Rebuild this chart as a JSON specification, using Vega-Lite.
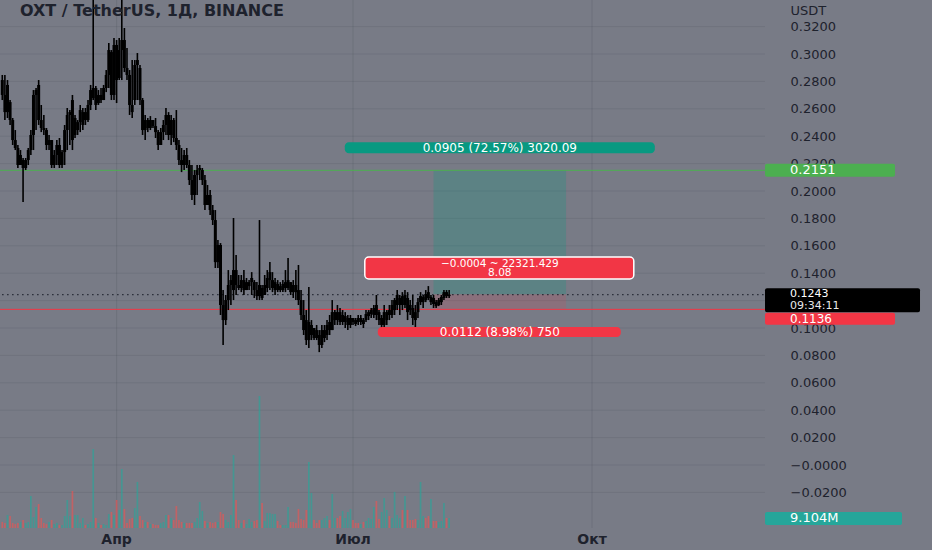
{
"$schema":"https://vega.github.io/schema/vega-lite/v6.json",
"width":932,"height":550,"padding":0,"autosize":"none",
"background":"#787b86",
"config":{"view":{"stroke":null}},
"title":{"text":"OXT / TetherUS, 1Д, BINANCE","anchor":"start","frame":"group","orient":"top","offset":-33,"dx":20,"baseline":"middle","font":"DejaVu Sans","fontSize":16,"fontWeight":"bold","color":"#1e222d"},
"resolve":{"scale":{"y":"independent"}},
"datasets":{
"months":[{"m":"2022-04-01","t":"Апр"},{"m":"2022-07-01","t":"Июл"},{"m":"2022-10-01","t":"Окт"}],
"ticks":[{"p":-0.02},{"p":0},{"p":0.02},{"p":0.04},{"p":0.06},{"p":0.08},{"p":0.1},{"p":0.12},{"p":0.14},{"p":0.16},{"p":0.18},{"p":0.2},{"p":0.22},{"p":0.24},{"p":0.26},{"p":0.28},{"p":0.3},{"p":0.32}],
"candles":[
{"d":"2022-02-16","o":0.2810,"h":0.2847,"l":0.2664,"c":0.2701,"v":5.5},
{"d":"2022-02-17","o":0.2701,"h":0.2847,"l":0.2518,"c":0.2576,"v":4.6},
{"d":"2022-02-18","o":0.2576,"h":0.2810,"l":0.2533,"c":0.2774,"v":11.8},
{"d":"2022-02-19","o":0.2649,"h":0.2664,"l":0.2482,"c":0.2518,"v":10.9},
{"d":"2022-02-20","o":0.2518,"h":0.2533,"l":0.2336,"c":0.2372,"v":4.6},
{"d":"2022-02-21","o":0.2372,"h":0.2445,"l":0.2299,"c":0.2314,"v":3.6},
{"d":"2022-02-22","o":0.2314,"h":0.2336,"l":0.2168,"c":0.2190,"v":4.6},
{"d":"2022-02-23","o":0.2190,"h":0.2299,"l":0.2190,"c":0.2263,"v":5.5},
{"d":"2022-02-24","o":0.2226,"h":0.2241,"l":0.1919,"c":0.2168,"v":7.3},
{"d":"2022-02-25","o":0.2168,"h":0.2241,"l":0.2153,"c":0.2226,"v":4.6},
{"d":"2022-02-26","o":0.2226,"h":0.2314,"l":0.2190,"c":0.2299,"v":5.5},
{"d":"2022-02-27","o":0.2299,"h":0.2445,"l":0.2263,"c":0.2409,"v":29.1},
{"d":"2022-02-28","o":0.2409,"h":0.2737,"l":0.2299,"c":0.2701,"v":10.0},
{"d":"2022-03-01","o":0.2701,"h":0.2752,"l":0.2445,"c":0.2737,"v":19.1},
{"d":"2022-03-02","o":0.2774,"h":0.2810,"l":0.2482,"c":0.2518,"v":21.8},
{"d":"2022-03-03","o":0.2518,"h":0.2628,"l":0.2430,"c":0.2460,"v":9.1},
{"d":"2022-03-04","o":0.2460,"h":0.2555,"l":0.2409,"c":0.2445,"v":4.6},
{"d":"2022-03-05","o":0.2445,"h":0.2460,"l":0.2299,"c":0.2336,"v":3.6},
{"d":"2022-03-06","o":0.2336,"h":0.2409,"l":0.2299,"c":0.2372,"v":5.5},
{"d":"2022-03-07","o":0.2372,"h":0.2372,"l":0.2168,"c":0.2190,"v":7.3},
{"d":"2022-03-08","o":0.2190,"h":0.2299,"l":0.2168,"c":0.2263,"v":3.6},
{"d":"2022-03-09","o":0.2263,"h":0.2372,"l":0.2190,"c":0.2336,"v":4.6},
{"d":"2022-03-10","o":0.2336,"h":0.2387,"l":0.2168,"c":0.2190,"v":2.7},
{"d":"2022-03-11","o":0.2190,"h":0.2299,"l":0.2168,"c":0.2284,"v":2.7},
{"d":"2022-03-12","o":0.2284,"h":0.2482,"l":0.2190,"c":0.2445,"v":10.9},
{"d":"2022-03-13","o":0.2445,"h":0.2606,"l":0.2299,"c":0.2555,"v":25.5},
{"d":"2022-03-14","o":0.2555,"h":0.2591,"l":0.2336,"c":0.2576,"v":10.9},
{"d":"2022-03-15","o":0.2664,"h":0.2701,"l":0.2299,"c":0.2372,"v":33.7},
{"d":"2022-03-16","o":0.2409,"h":0.2555,"l":0.2387,"c":0.2533,"v":11.8},
{"d":"2022-03-17","o":0.2445,"h":0.2518,"l":0.2409,"c":0.2503,"v":11.8},
{"d":"2022-03-18","o":0.2503,"h":0.2628,"l":0.2430,"c":0.2591,"v":4.6},
{"d":"2022-03-19","o":0.2482,"h":0.2606,"l":0.2445,"c":0.2576,"v":9.1},
{"d":"2022-03-20","o":0.2576,"h":0.2606,"l":0.2482,"c":0.2518,"v":2.7},
{"d":"2022-03-21","o":0.2518,"h":0.2664,"l":0.2503,"c":0.2628,"v":3.6},
{"d":"2022-03-22","o":0.2628,"h":0.2774,"l":0.2591,"c":0.2737,"v":5.5},
{"d":"2022-03-23","o":0.2679,"h":0.3416,"l":0.2664,"c":0.2752,"v":71.9},
{"d":"2022-03-24","o":0.2752,"h":0.2766,"l":0.2591,"c":0.2628,"v":9.1},
{"d":"2022-03-25","o":0.2642,"h":0.2737,"l":0.2628,"c":0.2701,"v":4.6},
{"d":"2022-03-26","o":0.2701,"h":0.2752,"l":0.2642,"c":0.2664,"v":2.7},
{"d":"2022-03-27","o":0.2664,"h":0.2774,"l":0.2664,"c":0.2752,"v":3.6},
{"d":"2022-03-28","o":0.2752,"h":0.2883,"l":0.2722,"c":0.2847,"v":2.7},
{"d":"2022-03-29","o":0.2847,"h":0.3080,"l":0.2752,"c":0.3029,"v":12.7},
{"d":"2022-03-30","o":0.3014,"h":0.3029,"l":0.2664,"c":0.2701,"v":14.6},
{"d":"2022-03-31","o":0.2701,"h":0.3117,"l":0.2664,"c":0.3066,"v":11.8},
{"d":"2022-04-01","o":0.3066,"h":0.3102,"l":0.2642,"c":0.2810,"v":25.5},
{"d":"2022-04-02","o":0.2825,"h":0.3117,"l":0.2810,"c":0.3029,"v":16.4},
{"d":"2022-04-03","o":0.3029,"h":0.3431,"l":0.2810,"c":0.3102,"v":53.7},
{"d":"2022-04-04","o":0.3102,"h":0.3190,"l":0.2868,"c":0.2898,"v":17.3},
{"d":"2022-04-05","o":0.2898,"h":0.3044,"l":0.2810,"c":0.2847,"v":4.6},
{"d":"2022-04-06","o":0.2847,"h":0.2883,"l":0.2555,"c":0.2628,"v":8.2},
{"d":"2022-04-07","o":0.2628,"h":0.2956,"l":0.2533,"c":0.2576,"v":9.1},
{"d":"2022-04-08","o":0.2664,"h":0.2956,"l":0.2628,"c":0.2920,"v":18.2},
{"d":"2022-04-09","o":0.2920,"h":0.3007,"l":0.2664,"c":0.2956,"v":41.9},
{"d":"2022-04-10","o":0.2898,"h":0.2920,"l":0.2628,"c":0.2664,"v":10.9},
{"d":"2022-04-11","o":0.2664,"h":0.2679,"l":0.2409,"c":0.2445,"v":7.3},
{"d":"2022-04-12","o":0.2445,"h":0.2555,"l":0.2372,"c":0.2518,"v":5.5},
{"d":"2022-04-13","o":0.2518,"h":0.2533,"l":0.2430,"c":0.2460,"v":5.5},
{"d":"2022-04-14","o":0.2460,"h":0.2547,"l":0.2445,"c":0.2518,"v":3.6},
{"d":"2022-04-15","o":0.2518,"h":0.2518,"l":0.2460,"c":0.2474,"v":3.6},
{"d":"2022-04-16","o":0.2474,"h":0.2533,"l":0.2387,"c":0.2430,"v":2.7},
{"d":"2022-04-17","o":0.2430,"h":0.2445,"l":0.2299,"c":0.2336,"v":2.7},
{"d":"2022-04-18","o":0.2336,"h":0.2460,"l":0.2336,"c":0.2430,"v":4.6},
{"d":"2022-04-19","o":0.2430,"h":0.2518,"l":0.2372,"c":0.2482,"v":5.5},
{"d":"2022-04-20","o":0.2482,"h":0.2606,"l":0.2409,"c":0.2555,"v":11.8},
{"d":"2022-04-21","o":0.2555,"h":0.2576,"l":0.2372,"c":0.2409,"v":11.8},
{"d":"2022-04-22","o":0.2409,"h":0.2555,"l":0.2336,"c":0.2518,"v":9.1},
{"d":"2022-04-23","o":0.2518,"h":0.2533,"l":0.2357,"c":0.2387,"v":7.3},
{"d":"2022-04-24","o":0.2387,"h":0.2591,"l":0.2299,"c":0.2336,"v":20.0},
{"d":"2022-04-25","o":0.2336,"h":0.2372,"l":0.2190,"c":0.2226,"v":7.3},
{"d":"2022-04-26","o":0.2226,"h":0.2314,"l":0.2138,"c":0.2190,"v":5.5},
{"d":"2022-04-27","o":0.2190,"h":0.2299,"l":0.2153,"c":0.2263,"v":4.6},
{"d":"2022-04-28","o":0.2263,"h":0.2314,"l":0.2168,"c":0.2190,"v":4.6},
{"d":"2022-04-29","o":0.2190,"h":0.2226,"l":0.2044,"c":0.2080,"v":4.6},
{"d":"2022-04-30","o":0.2080,"h":0.2190,"l":0.1934,"c":0.1971,"v":4.6},
{"d":"2022-05-01","o":0.1971,"h":0.2153,"l":0.1898,"c":0.2117,"v":5.5},
{"d":"2022-05-02","o":0.2117,"h":0.2190,"l":0.1971,"c":0.2153,"v":9.1},
{"d":"2022-05-03","o":0.2153,"h":0.2190,"l":0.2080,"c":0.2168,"v":23.7},
{"d":"2022-05-04","o":0.2080,"h":0.2168,"l":0.2044,"c":0.2153,"v":15.5},
{"d":"2022-05-05","o":0.2080,"h":0.2117,"l":0.1861,"c":0.1898,"v":6.4},
{"d":"2022-05-06","o":0.1898,"h":0.2044,"l":0.1898,"c":0.1971,"v":4.6},
{"d":"2022-05-07","o":0.1971,"h":0.2007,"l":0.1825,"c":0.1861,"v":5.5},
{"d":"2022-05-08","o":0.1861,"h":0.1898,"l":0.1752,"c":0.1788,"v":4.6},
{"d":"2022-05-09","o":0.1788,"h":0.1861,"l":0.1438,"c":0.1481,"v":5.5},
{"d":"2022-05-10","o":0.1481,"h":0.1642,"l":0.1438,"c":0.1606,"v":5.5},
{"d":"2022-05-11","o":0.1606,"h":0.1620,"l":0.1095,"c":0.1168,"v":14.6},
{"d":"2022-05-12","o":0.1168,"h":0.1277,"l":0.0876,"c":0.1058,"v":12.7},
{"d":"2022-05-13","o":0.1058,"h":0.1241,"l":0.1022,"c":0.1204,"v":7.3},
{"d":"2022-05-14","o":0.1204,"h":0.1423,"l":0.1131,"c":0.1314,"v":5.5},
{"d":"2022-05-15","o":0.1314,"h":0.1387,"l":0.1168,"c":0.1350,"v":11.8},
{"d":"2022-05-16","o":0.1277,"h":0.1803,"l":0.1204,"c":0.1423,"v":66.4},
{"d":"2022-05-17","o":0.1423,"h":0.1533,"l":0.1241,"c":0.1314,"v":25.5},
{"d":"2022-05-18","o":0.1314,"h":0.1387,"l":0.1277,"c":0.1292,"v":7.3},
{"d":"2022-05-19","o":0.1292,"h":0.1387,"l":0.1262,"c":0.1350,"v":4.6},
{"d":"2022-05-20","o":0.1350,"h":0.1423,"l":0.1241,"c":0.1277,"v":7.3},
{"d":"2022-05-21","o":0.1277,"h":0.1365,"l":0.1277,"c":0.1335,"v":3.6},
{"d":"2022-05-22","o":0.1306,"h":0.1350,"l":0.1277,"c":0.1335,"v":8.2},
{"d":"2022-05-23","o":0.1335,"h":0.1408,"l":0.1241,"c":0.1365,"v":5.5},
{"d":"2022-05-24","o":0.1335,"h":0.1350,"l":0.1219,"c":0.1277,"v":6.4},
{"d":"2022-05-25","o":0.1277,"h":0.1335,"l":0.1204,"c":0.1233,"v":7.3},
{"d":"2022-05-26","o":0.1233,"h":0.1788,"l":0.1204,"c":0.1314,"v":120.1},
{"d":"2022-05-27","o":0.1292,"h":0.1314,"l":0.1204,"c":0.1219,"v":22.8},
{"d":"2022-05-28","o":0.1241,"h":0.1387,"l":0.1241,"c":0.1314,"v":6.4},
{"d":"2022-05-29","o":0.1292,"h":0.1423,"l":0.1262,"c":0.1365,"v":13.7},
{"d":"2022-05-30","o":0.1350,"h":0.1481,"l":0.1277,"c":0.1408,"v":13.7},
{"d":"2022-05-31","o":0.1292,"h":0.1408,"l":0.1262,"c":0.1350,"v":12.7},
{"d":"2022-06-01","o":0.1277,"h":0.1365,"l":0.1241,"c":0.1335,"v":12.7},
{"d":"2022-06-02","o":0.1321,"h":0.1350,"l":0.1262,"c":0.1277,"v":6.4},
{"d":"2022-06-03","o":0.1306,"h":0.1335,"l":0.1262,"c":0.1277,"v":2.7},
{"d":"2022-06-04","o":0.1277,"h":0.1350,"l":0.1262,"c":0.1321,"v":2.7},
{"d":"2022-06-05","o":0.1292,"h":0.1423,"l":0.1262,"c":0.1335,"v":2.7},
{"d":"2022-06-06","o":0.1292,"h":0.1511,"l":0.1277,"c":0.1350,"v":19.1},
{"d":"2022-06-07","o":0.1335,"h":0.1335,"l":0.1241,"c":0.1262,"v":5.5},
{"d":"2022-06-08","o":0.1314,"h":0.1350,"l":0.1219,"c":0.1262,"v":5.5},
{"d":"2022-06-09","o":0.1314,"h":0.1423,"l":0.1204,"c":0.1262,"v":4.6},
{"d":"2022-06-10","o":0.1277,"h":0.1460,"l":0.1168,"c":0.1204,"v":17.3},
{"d":"2022-06-11","o":0.1204,"h":0.1277,"l":0.1058,"c":0.1095,"v":8.2},
{"d":"2022-06-12","o":0.1095,"h":0.1204,"l":0.0949,"c":0.0985,"v":7.3},
{"d":"2022-06-13","o":0.1058,"h":0.1131,"l":0.0876,"c":0.0912,"v":16.4},
{"d":"2022-06-14","o":0.0912,"h":0.1299,"l":0.0854,"c":0.1044,"v":60.1},
{"d":"2022-06-15","o":0.0949,"h":0.1058,"l":0.0912,"c":0.1022,"v":31.9},
{"d":"2022-06-16","o":0.1000,"h":0.1000,"l":0.0912,"c":0.0927,"v":7.3},
{"d":"2022-06-17","o":0.0985,"h":0.1022,"l":0.0912,"c":0.0927,"v":4.6},
{"d":"2022-06-18","o":0.0949,"h":0.0985,"l":0.0824,"c":0.0876,"v":7.3},
{"d":"2022-06-19","o":0.0876,"h":0.1022,"l":0.0854,"c":0.0985,"v":7.3},
{"d":"2022-06-20","o":0.0927,"h":0.1022,"l":0.0897,"c":0.0985,"v":9.1},
{"d":"2022-06-21","o":0.0949,"h":0.1058,"l":0.0912,"c":0.1022,"v":10.9},
{"d":"2022-06-22","o":0.1044,"h":0.1095,"l":0.0949,"c":0.0985,"v":7.3},
{"d":"2022-06-23","o":0.0985,"h":0.1204,"l":0.0985,"c":0.1116,"v":30.9},
{"d":"2022-06-24","o":0.1058,"h":0.1131,"l":0.1022,"c":0.1116,"v":9.1},
{"d":"2022-06-25","o":0.1116,"h":0.1168,"l":0.1022,"c":0.1058,"v":9.1},
{"d":"2022-06-26","o":0.1116,"h":0.1146,"l":0.1022,"c":0.1044,"v":10.9},
{"d":"2022-06-27","o":0.1044,"h":0.1131,"l":0.1022,"c":0.1095,"v":15.5},
{"d":"2022-06-28","o":0.1044,"h":0.1116,"l":0.1000,"c":0.1087,"v":9.1},
{"d":"2022-06-29","o":0.1022,"h":0.1095,"l":0.0985,"c":0.1073,"v":14.6},
{"d":"2022-06-30","o":0.1022,"h":0.1095,"l":0.1000,"c":0.1073,"v":17.3},
{"d":"2022-07-01","o":0.1073,"h":0.1073,"l":0.1022,"c":0.1044,"v":7.3},
{"d":"2022-07-02","o":0.1058,"h":0.1073,"l":0.1014,"c":0.1029,"v":4.6},
{"d":"2022-07-03","o":0.1073,"h":0.1095,"l":0.1022,"c":0.1044,"v":4.6},
{"d":"2022-07-04","o":0.1044,"h":0.1095,"l":0.1022,"c":0.1073,"v":3.6},
{"d":"2022-07-05","o":0.1058,"h":0.1073,"l":0.1000,"c":0.1029,"v":5.5},
{"d":"2022-07-06","o":0.1058,"h":0.1131,"l":0.1044,"c":0.1102,"v":6.4},
{"d":"2022-07-07","o":0.1087,"h":0.1131,"l":0.1058,"c":0.1116,"v":9.1},
{"d":"2022-07-08","o":0.1102,"h":0.1146,"l":0.1073,"c":0.1131,"v":8.2},
{"d":"2022-07-09","o":0.1095,"h":0.1168,"l":0.1073,"c":0.1146,"v":19.1},
{"d":"2022-07-10","o":0.1168,"h":0.1241,"l":0.1058,"c":0.1095,"v":24.6},
{"d":"2022-07-11","o":0.1116,"h":0.1131,"l":0.1022,"c":0.1058,"v":8.2},
{"d":"2022-07-12","o":0.1022,"h":0.1095,"l":0.0985,"c":0.1073,"v":14.6},
{"d":"2022-07-13","o":0.1022,"h":0.1168,"l":0.0963,"c":0.1116,"v":27.3},
{"d":"2022-07-14","o":0.1058,"h":0.1131,"l":0.1022,"c":0.1116,"v":16.4},
{"d":"2022-07-15","o":0.1131,"h":0.1168,"l":0.1058,"c":0.1095,"v":10.9},
{"d":"2022-07-16","o":0.1095,"h":0.1204,"l":0.1073,"c":0.1168,"v":9.1},
{"d":"2022-07-17","o":0.1131,"h":0.1219,"l":0.1095,"c":0.1204,"v":32.8},
{"d":"2022-07-18","o":0.1168,"h":0.1277,"l":0.1131,"c":0.1241,"v":11.8},
{"d":"2022-07-19","o":0.1168,"h":0.1241,"l":0.1095,"c":0.1219,"v":9.1},
{"d":"2022-07-20","o":0.1233,"h":0.1262,"l":0.1131,"c":0.1168,"v":16.4},
{"d":"2022-07-21","o":0.1168,"h":0.1277,"l":0.1146,"c":0.1241,"v":29.1},
{"d":"2022-07-22","o":0.1219,"h":0.1262,"l":0.1058,"c":0.1116,"v":16.4},
{"d":"2022-07-23","o":0.1168,"h":0.1204,"l":0.1095,"c":0.1131,"v":7.3},
{"d":"2022-07-24","o":0.1146,"h":0.1241,"l":0.1022,"c":0.1073,"v":7.3},
{"d":"2022-07-25","o":0.1116,"h":0.1168,"l":0.1000,"c":0.1058,"v":8.2},
{"d":"2022-07-26","o":0.1116,"h":0.1219,"l":0.1073,"c":0.1189,"v":7.3},
{"d":"2022-07-27","o":0.1189,"h":0.1262,"l":0.1168,"c":0.1233,"v":41.9},
{"d":"2022-07-28","o":0.1189,"h":0.1241,"l":0.1146,"c":0.1226,"v":10.9},
{"d":"2022-07-29","o":0.1248,"h":0.1277,"l":0.1189,"c":0.1204,"v":9.1},
{"d":"2022-07-30","o":0.1262,"h":0.1306,"l":0.1204,"c":0.1219,"v":10.9},
{"d":"2022-07-31","o":0.1189,"h":0.1241,"l":0.1168,"c":0.1226,"v":26.4},
{"d":"2022-08-01","o":0.1219,"h":0.1241,"l":0.1146,"c":0.1175,"v":6.4},
{"d":"2022-08-02","o":0.1189,"h":0.1204,"l":0.1146,"c":0.1160,"v":6.4},
{"d":"2022-08-03","o":0.1168,"h":0.1219,"l":0.1160,"c":0.1204,"v":5.5},
{"d":"2022-08-04","o":0.1189,"h":0.1241,"l":0.1168,"c":0.1226,"v":6.4},
{"d":"2022-08-05","o":0.1219,"h":0.1277,"l":0.1204,"c":0.1262,"v":22.8},
{"d":"2022-08-06","o":0.1262,"h":0.1277,"l":0.1219,"c":0.1233,"v":9.1},
{"d":"2022-08-07","o":0.1233,"h":0.1277,"l":0.1219,"c":0.1243,"v":9.104}
]},
"layer":[
{"data":{"name":"months"},
 "mark":{"type":"rule","color":"#2a2e39","opacity":0.13,"strokeWidth":1},
 "encoding":{
  "x":{"field":"m","type":"temporal","scale":{"type":"utc","domain":[1644893568000,1675888704000],"nice":false},"axis":null},
  "y":{"datum":0.33942,"type":"quantitative","scale":{"domain":[-0.06204,0.33942],"nice":false,"zero":false},"axis":null},
  "y2":{"datum":-0.046}}},
{"data":{"name":"months"},
 "mark":{"type":"text","font":"DejaVu Sans","fontSize":14,"fontWeight":"bold","color":"#1e222d","baseline":"middle","align":"center"},
 "encoding":{
  "x":{"field":"m","type":"temporal","scale":{"type":"utc","domain":[1644893568000,1675888704000],"nice":false},"axis":null},
  "y":{"datum":-0.0547,"type":"quantitative","scale":{"domain":[-0.06204,0.33942],"nice":false,"zero":false},"axis":null},
  "text":{"field":"t"}}},
{"data":{"name":"ticks"},
 "mark":{"type":"rule","color":"#2a2e39","opacity":0.1,"strokeWidth":1},
 "encoding":{
  "y":{"field":"p","type":"quantitative","scale":{"domain":[-0.06204,0.33942],"nice":false,"zero":false},
   "axis":{"orient":"right","offset":-142,"values":[-0.02,0,0.02,0.04,0.06,0.08,0.1,0.12,0.14,0.16,0.18,0.2,0.22,0.24,0.26,0.28,0.3,0.32],
    "labelExpr":"datum.value < 0.001 ? '−' + format(abs(datum.value), '.4f') : format(datum.value, '.4f')",
    "labelAlign":"left","labelBaseline":"middle","labelPadding":0,"ticks":false,"domain":false,"grid":false,
    "labelFont":"DejaVu Sans","labelFontSize":13,"labelColor":"#1e222d","labelOverlap":false,"labelBound":false,"labelFlush":false,
    "title":"USDT","titleAngle":0,"titleX":0,"titleY":10,"titleAlign":"left","titleBaseline":"middle","titleFont":"DejaVu Sans","titleFontSize":13,"titleFontWeight":"normal","titleColor":"#1e222d","zindex":0}},
  "x":{"datum":{"year":2022,"month":2,"date":14,"utc":true},"type":"temporal","scale":{"type":"utc","domain":[1644893568000,1675888704000],"nice":false},"axis":null},
  "x2":{"datum":{"year":2022,"month":12,"date":6,"hours":14,"utc":true}}}},
{"data":{"values":[{"start":"2022-08-01","end":"2022-09-21","entry":0.1246,"tp":0.2151,"sl":0.1136}]},
 "layer":[
  {"mark":{"type":"rect","color":"#089981","opacity":0.25},
   "encoding":{"x":{"field":"start","type":"temporal","scale":{"type":"utc","domain":[1644893568000,1675888704000],"nice":false},"axis":null},"x2":{"field":"end"},
    "y":{"field":"entry","type":"quantitative","scale":{"domain":[-0.06204,0.33942],"nice":false,"zero":false},"axis":null},"y2":{"field":"tp"}}},
  {"mark":{"type":"rect","color":"#f23645","opacity":0.15},
   "encoding":{"x":{"field":"start","type":"temporal","scale":{"type":"utc","domain":[1644893568000,1675888704000],"nice":false},"axis":null},"x2":{"field":"end"},
    "y":{"field":"entry","type":"quantitative","scale":{"domain":[-0.06204,0.33942],"nice":false,"zero":false},"axis":null},"y2":{"field":"sl"}}}
 ]},
{"data":{"values":[{"p":0.2151}]},
 "mark":{"type":"rule","color":"#4caf50","strokeWidth":1},
 "encoding":{"y":{"field":"p","type":"quantitative","scale":{"domain":[-0.06204,0.33942],"nice":false,"zero":false},"axis":null},
  "x":{"datum":{"year":2022,"month":2,"date":14,"utc":true},"type":"temporal","scale":{"type":"utc","domain":[1644893568000,1675888704000],"nice":false},"axis":null},
  "x2":{"datum":{"year":2022,"month":12,"date":6,"hours":14,"utc":true}}}},
{"data":{"values":[{"p":0.1136}]},
 "mark":{"type":"rule","color":"#f23645","strokeWidth":1},
 "encoding":{"y":{"field":"p","type":"quantitative","scale":{"domain":[-0.06204,0.33942],"nice":false,"zero":false},"axis":null},
  "x":{"datum":{"year":2022,"month":2,"date":14,"utc":true},"type":"temporal","scale":{"type":"utc","domain":[1644893568000,1675888704000],"nice":false},"axis":null},
  "x2":{"datum":{"year":2022,"month":12,"date":6,"hours":14,"utc":true}}}},
{"data":{"values":[{"p":0.1243}]},
 "mark":{"type":"rule","color":"#131722","strokeWidth":1,"strokeDash":[1.5,3.5]},
 "encoding":{"y":{"field":"p","type":"quantitative","scale":{"domain":[-0.06204,0.33942],"nice":false,"zero":false},"axis":null},
  "x":{"datum":{"year":2022,"month":2,"date":14,"utc":true},"type":"temporal","scale":{"type":"utc","domain":[1644893568000,1675888704000],"nice":false},"axis":null},
  "x2":{"datum":{"year":2022,"month":12,"date":6,"hours":14,"utc":true}}}},
{"data":{"name":"candles"},
 "mark":{"type":"rule","strokeWidth":1.7,"opacity":0.62,"strokeCap":"butt"},
 "encoding":{"x":{"field":"d","type":"temporal","scale":{"type":"utc","domain":[1644893568000,1675888704000],"nice":false},"axis":null},
  "y":{"field":"v","type":"quantitative","scale":{"domain":[-20.02,480.5],"nice":false,"zero":false},"axis":null},
  "y2":{"datum":0},
  "color":{"condition":{"test":"datum.c >= datum.o","value":"#26a69a"},"value":"#ef5350"}}},
{"data":{"name":"candles"},
 "mark":{"type":"rule","color":"#000000","strokeWidth":1.6,"strokeCap":"butt"},
 "encoding":{"x":{"field":"d","type":"temporal","scale":{"type":"utc","domain":[1644893568000,1675888704000],"nice":false},"axis":null},
  "y":{"field":"l","type":"quantitative","scale":{"domain":[-0.06204,0.33942],"nice":false,"zero":false},"axis":null},
  "y2":{"field":"h"}}},
{"data":{"name":"candles"},
 "mark":{"type":"rule","color":"#000000","strokeWidth":3,"strokeCap":"butt"},
 "encoding":{"x":{"field":"d","type":"temporal","scale":{"type":"utc","domain":[1644893568000,1675888704000],"nice":false},"axis":null},
  "y":{"field":"o","type":"quantitative","scale":{"domain":[-0.06204,0.33942],"nice":false,"zero":false},"axis":null},
  "y2":{"field":"c"}}},
{"data":{"values":[{"d":"2022-08-26T12:00:00Z","p":0.2151,"t":"0.0905 (72.57%) 3020.09"}]},
 "layer":[
  {"mark":{"type":"rect","color":"#089981","cornerRadius":4,"xOffset":-155,"x2Offset":155,"yOffset":-28,"y2Offset":-17},
   "encoding":{"x":{"field":"d","type":"temporal","scale":{"type":"utc","domain":[1644893568000,1675888704000],"nice":false},"axis":null},"x2":{"field":"d"},
    "y":{"field":"p","type":"quantitative","scale":{"domain":[-0.06204,0.33942],"nice":false,"zero":false},"axis":null},"y2":{"field":"p"}}},
  {"mark":{"type":"text","color":"#ffffff","font":"DejaVu Sans","fontSize":12,"dy":-22.5,"baseline":"middle","align":"center"},
   "encoding":{"x":{"field":"d","type":"temporal","scale":{"type":"utc","domain":[1644893568000,1675888704000],"nice":false},"axis":null},
    "y":{"field":"p","type":"quantitative","scale":{"domain":[-0.06204,0.33942],"nice":false,"zero":false},"axis":null},"text":{"field":"t"}}}
 ]},
{"data":{"values":[{"d":"2022-08-26T12:00:00Z","p":0.1246,"t1":"−0.0004 ~ 22321.429","t2":"8.08"}]},
 "layer":[
  {"mark":{"type":"rect","color":"#f23645","stroke":"#ffffff","strokeWidth":1.5,"cornerRadius":4,"xOffset":-135,"x2Offset":134,"yOffset":-37.3,"y2Offset":-15.3},
   "encoding":{"x":{"field":"d","type":"temporal","scale":{"type":"utc","domain":[1644893568000,1675888704000],"nice":false},"axis":null},"x2":{"field":"d"},
    "y":{"field":"p","type":"quantitative","scale":{"domain":[-0.06204,0.33942],"nice":false,"zero":false},"axis":null},"y2":{"field":"p"}}},
  {"mark":{"type":"text","color":"#ffffff","font":"DejaVu Sans","fontSize":10.5,"dy":-30.2,"baseline":"middle","align":"center"},
   "encoding":{"x":{"field":"d","type":"temporal","scale":{"type":"utc","domain":[1644893568000,1675888704000],"nice":false},"axis":null},
    "y":{"field":"p","type":"quantitative","scale":{"domain":[-0.06204,0.33942],"nice":false,"zero":false},"axis":null},"text":{"field":"t1"}}},
  {"mark":{"type":"text","color":"#ffffff","font":"DejaVu Sans","fontSize":10.5,"dy":-21.8,"baseline":"middle","align":"center"},
   "encoding":{"x":{"field":"d","type":"temporal","scale":{"type":"utc","domain":[1644893568000,1675888704000],"nice":false},"axis":null},
    "y":{"field":"p","type":"quantitative","scale":{"domain":[-0.06204,0.33942],"nice":false,"zero":false},"axis":null},"text":{"field":"t2"}}}
 ]},
{"data":{"values":[{"d":"2022-08-26T12:00:00Z","p":0.1136,"t":"0.0112 (8.98%) 750"}]},
 "layer":[
  {"mark":{"type":"rect","color":"#f23645","cornerRadius":4,"xOffset":-122,"x2Offset":121,"yOffset":17.6,"y2Offset":27.6},
   "encoding":{"x":{"field":"d","type":"temporal","scale":{"type":"utc","domain":[1644893568000,1675888704000],"nice":false},"axis":null},"x2":{"field":"d"},
    "y":{"field":"p","type":"quantitative","scale":{"domain":[-0.06204,0.33942],"nice":false,"zero":false},"axis":null},"y2":{"field":"p"}}},
  {"mark":{"type":"text","color":"#ffffff","font":"DejaVu Sans","fontSize":12,"dy":22.6,"baseline":"middle","align":"center"},
   "encoding":{"x":{"field":"d","type":"temporal","scale":{"type":"utc","domain":[1644893568000,1675888704000],"nice":false},"axis":null},
    "y":{"field":"p","type":"quantitative","scale":{"domain":[-0.06204,0.33942],"nice":false,"zero":false},"axis":null},"text":{"field":"t"}}}
 ]},
{"data":{"values":[{"p":0.2151,"t":"0.2151"}]},
 "layer":[
  {"mark":{"type":"rect","color":"#4caf50","cornerRadius":2,"x2Offset":130,"yOffset":-6.5,"y2Offset":6.5},
   "encoding":{"x":{"datum":{"year":2022,"month":12,"date":6,"hours":14,"utc":true},"type":"temporal","scale":{"type":"utc","domain":[1644893568000,1675888704000],"nice":false},"axis":null},"x2":{"datum":{"year":2022,"month":12,"date":6,"hours":14,"utc":true}},
    "y":{"field":"p","type":"quantitative","scale":{"domain":[-0.06204,0.33942],"nice":false,"zero":false},"axis":null},"y2":{"field":"p"}}},
  {"mark":{"type":"text","color":"#ffffff","font":"DejaVu Sans","fontSize":13,"dx":25,"baseline":"middle","align":"left"},
   "encoding":{"x":{"datum":{"year":2022,"month":12,"date":6,"hours":14,"utc":true},"type":"temporal","scale":{"type":"utc","domain":[1644893568000,1675888704000],"nice":false},"axis":null},
    "y":{"field":"p","type":"quantitative","scale":{"domain":[-0.06204,0.33942],"nice":false,"zero":false},"axis":null},"text":{"field":"t"}}}
 ]},
{"data":{"values":[{"p":0.1243,"t1":"0.1243","t2":"09:34:11"}]},
 "layer":[
  {"mark":{"type":"rect","color":"#000000","cornerRadius":2,"x2Offset":155,"yOffset":-6.4,"y2Offset":17.5},
   "encoding":{"x":{"datum":{"year":2022,"month":12,"date":6,"hours":14,"utc":true},"type":"temporal","scale":{"type":"utc","domain":[1644893568000,1675888704000],"nice":false},"axis":null},"x2":{"datum":{"year":2022,"month":12,"date":6,"hours":14,"utc":true}},
    "y":{"field":"p","type":"quantitative","scale":{"domain":[-0.06204,0.33942],"nice":false,"zero":false},"axis":null},"y2":{"field":"p"}}},
  {"mark":{"type":"text","color":"#ffffff","font":"DejaVu Sans","fontSize":11,"dx":25,"dy":-0.3,"baseline":"middle","align":"left"},
   "encoding":{"x":{"datum":{"year":2022,"month":12,"date":6,"hours":14,"utc":true},"type":"temporal","scale":{"type":"utc","domain":[1644893568000,1675888704000],"nice":false},"axis":null},
    "y":{"field":"p","type":"quantitative","scale":{"domain":[-0.06204,0.33942],"nice":false,"zero":false},"axis":null},"text":{"field":"t1"}}},
  {"mark":{"type":"text","color":"#e8e8e8","font":"DejaVu Sans","fontSize":11,"dx":25,"dy":10.8,"baseline":"middle","align":"left"},
   "encoding":{"x":{"datum":{"year":2022,"month":12,"date":6,"hours":14,"utc":true},"type":"temporal","scale":{"type":"utc","domain":[1644893568000,1675888704000],"nice":false},"axis":null},
    "y":{"field":"p","type":"quantitative","scale":{"domain":[-0.06204,0.33942],"nice":false,"zero":false},"axis":null},"text":{"field":"t2"}}}
 ]},
{"data":{"values":[{"p":0.1136,"t":"0.1136"}]},
 "layer":[
  {"mark":{"type":"rect","color":"#f23645","cornerRadius":2,"x2Offset":130,"yOffset":3.5,"y2Offset":15.4},
   "encoding":{"x":{"datum":{"year":2022,"month":12,"date":6,"hours":14,"utc":true},"type":"temporal","scale":{"type":"utc","domain":[1644893568000,1675888704000],"nice":false},"axis":null},"x2":{"datum":{"year":2022,"month":12,"date":6,"hours":14,"utc":true}},
    "y":{"field":"p","type":"quantitative","scale":{"domain":[-0.06204,0.33942],"nice":false,"zero":false},"axis":null},"y2":{"field":"p"}}},
  {"mark":{"type":"text","color":"#ffffff","font":"DejaVu Sans","fontSize":12,"dx":25,"dy":9.5,"baseline":"middle","align":"left"},
   "encoding":{"x":{"datum":{"year":2022,"month":12,"date":6,"hours":14,"utc":true},"type":"temporal","scale":{"type":"utc","domain":[1644893568000,1675888704000],"nice":false},"axis":null},
    "y":{"field":"p","type":"quantitative","scale":{"domain":[-0.06204,0.33942],"nice":false,"zero":false},"axis":null},"text":{"field":"t"}}}
 ]},
{"data":{"values":[{"v":9.104,"t":"9.104M"}]},
 "layer":[
  {"mark":{"type":"rect","color":"#26a69a","cornerRadius":2,"x2Offset":137,"yOffset":-6,"y2Offset":7},
   "encoding":{"x":{"datum":{"year":2022,"month":12,"date":6,"hours":14,"utc":true},"type":"temporal","scale":{"type":"utc","domain":[1644893568000,1675888704000],"nice":false},"axis":null},"x2":{"datum":{"year":2022,"month":12,"date":6,"hours":14,"utc":true}},
    "y":{"field":"v","type":"quantitative","scale":{"domain":[-20.02,480.5],"nice":false,"zero":false},"axis":null},"y2":{"field":"v"}}},
  {"mark":{"type":"text","color":"#ffffff","font":"DejaVu Sans","fontSize":13,"dx":25,"dy":0.4,"baseline":"middle","align":"left"},
   "encoding":{"x":{"datum":{"year":2022,"month":12,"date":6,"hours":14,"utc":true},"type":"temporal","scale":{"type":"utc","domain":[1644893568000,1675888704000],"nice":false},"axis":null},
    "y":{"field":"v","type":"quantitative","scale":{"domain":[-20.02,480.5],"nice":false,"zero":false},"axis":null},"text":{"field":"t"}}}
 ]}
]
}
